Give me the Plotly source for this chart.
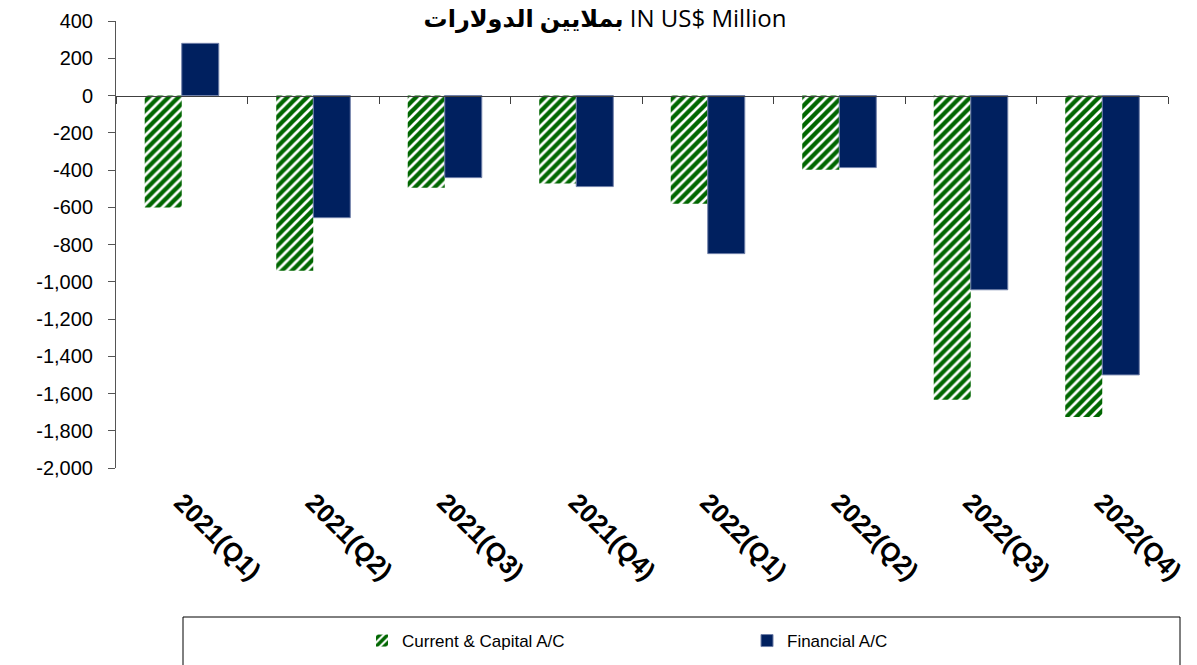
import plotly.graph_objects as go

categories = ["2021(Q1)", "2021(Q2)", "2021(Q3)", "2021(Q4)",
              "2022(Q1)", "2022(Q2)", "2022(Q3)", "2022(Q4)"]
current_capital = [-602, -941, -495, -473, -581, -398, -1634, -1726]
financial = [280, -656, -441, -489, -849, -387, -1043, -1500]
y_ticks = list(range(-2000, 401, 200))
y_tick_text = [f"{v:,}" for v in y_ticks]
y_range = [-2000, 400]

font_family = "Liberation Sans, Arial, DejaVu Sans"

W, H = 1189, 657  # page body has an 8px margin

fig = go.Figure()
fig.add_trace(go.Bar(
    x=categories, y=current_capital, name="Current & Capital A/C",
    marker=dict(color="white",
                pattern=dict(shape="/", fgcolor="#006600", bgcolor="white",
                             size=7, solidity=0.62, fgopacity=1),
                line=dict(width=0)),
))
fig.add_trace(go.Bar(
    x=categories, y=financial, name="Financial A/C",
    marker=dict(color="#00205f", line=dict(color="#6f7fa8", width=1)),
))
# helper trace for the zero-line axis (no visible marks)
fig.add_trace(go.Scatter(x=[0], y=[0], xaxis="x2", yaxis="y", mode="markers",
                         marker=dict(opacity=0), showlegend=False,
                         hoverinfo="skip"))

zero_pos = (0 - y_range[0]) / (y_range[1] - y_range[0])
n = len(categories)

fig.update_layout(
    width=W, height=H,
    paper_bgcolor="white", plot_bgcolor="white",
    margin=dict(l=108, r=29, t=13, b=197, autoexpand=False),
    barmode="group", bargap=0.437, bargroupgap=0,
    font=dict(family=font_family, color="black"),
    title=dict(
        text="<b>بملايين الدولارات</b> IN US$ Million",
        x=597 / W, xanchor="center", xref="container",
        y=1, yanchor="top", yref="container", pad=dict(t=2, b=0),
        font=dict(family="Open Sans, DejaVu Sans", size=24, color="black"),
    ),
    xaxis=dict(
        type="category", showline=False, ticks="", showgrid=False,
        tickangle=45, ticklabelstandoff=13, automargin=False,
        tickfont=dict(family=font_family, size=26, color="black", weight="bold"),
        zeroline=False,
    ),
    xaxis2=dict(
        overlaying="x", anchor="free", position=zero_pos, side="bottom",
        range=[-0.5, n - 0.5], tickvals=[i - 0.5 for i in range(n + 1)],
        showticklabels=False, ticks="outside", ticklen=7, tickcolor="#404040",
        showline=True, linecolor="#404040", linewidth=1, showgrid=False,
        zeroline=False, automargin=False,
    ),
    yaxis=dict(
        range=y_range, tickvals=y_ticks, ticktext=y_tick_text,
        showline=True, linecolor="#555555", linewidth=1,
        ticks="outside", ticklen=7, tickcolor="#555555",
        ticklabelstandoff=11, showgrid=False, zeroline=False, automargin=False,
        tickfont=dict(family=font_family, size=20, color="black"),
    ),
    legend=dict(
        orientation="h", x=(362 - 116) / 1052, xanchor="left",
        y=(468 - 641) / 447, yanchor="middle",
        entrywidth=340, entrywidthmode="pixels",
        font=dict(family=font_family, size=17, color="black"),
        bgcolor="rgba(0,0,0,0)", itemwidth=30,
    ),
    shapes=[dict(type="rect", xref="paper", yref="paper",
                 x0=(183 - 116) / 1052, x1=(1180 - 116) / 1052,
                 y0=(468 - 617) / 447, y1=(468 - 700) / 447,
                 line=dict(color="black", width=1), fillcolor="rgba(0,0,0,0)",
                 layer="below")],
)

fig.write_html("out.html")
